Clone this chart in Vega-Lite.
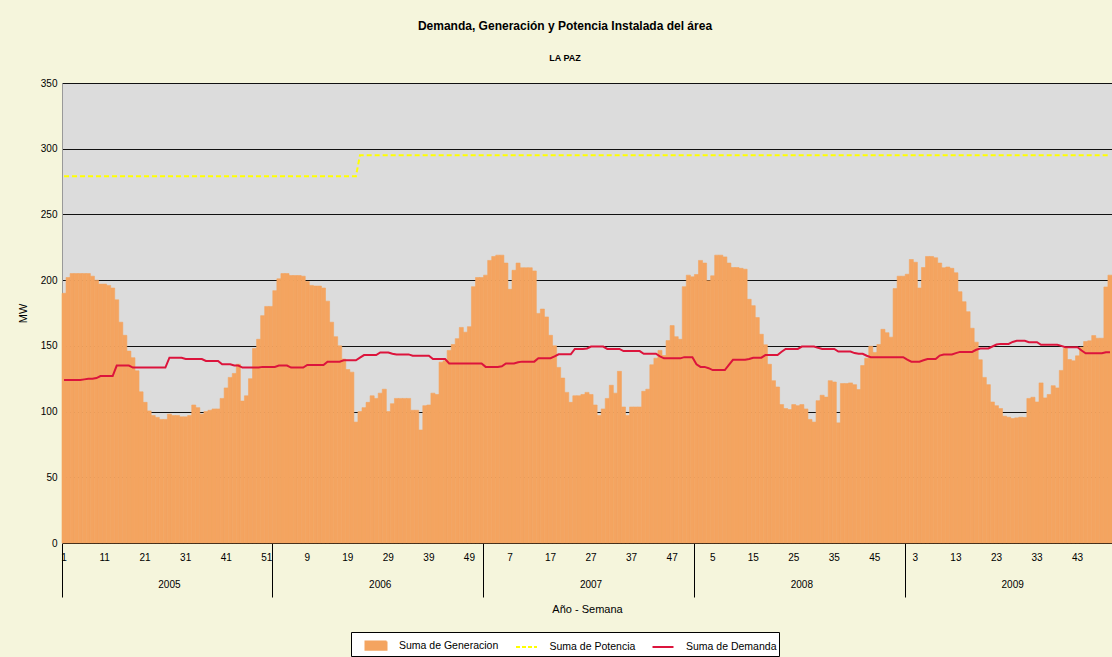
{
"$schema": "https://vega.github.io/schema/vega-lite/v6.json",
"width": 1050, "height": 460,
"autosize": {"type": "none"},
"padding": {"left": 62, "top": 83, "right": 0, "bottom": 114},
"background": "#F5F5DC",
"title": {"text": "Demanda, Generación y Potencia Instalada del área", "subtitle": "LA PAZ", "anchor": "middle", "dx": -22, "offset": 14, "font": "Liberation Sans", "fontSize": 12, "fontWeight": "bold", "color": "#000", "subtitleFont": "Liberation Sans", "subtitleFontSize": 9, "subtitleFontWeight": "bold", "subtitleColor": "#000", "subtitlePadding": 21},
"config": {"view": {"fill": "#DCDCDC", "stroke": null}, "font": "Liberation Sans", "axis": {"labelFont": "Liberation Sans", "titleFont": "Liberation Sans", "labelColor": "#000", "titleColor": "#000"},
  "legend": {"orient": "none", "legendX": 289, "legendY": 549, "direction": "horizontal", "strokeColor": "#000", "fillColor": "#FFFFFF", "padding": 2, "labelFontSize": 10.5, "labelFont": "Liberation Sans", "labelColor": "#000", "symbolSize": 441, "symbolOffset": 11.5, "labelOffset": 11.5, "columnPadding": 4.5, "symbolStrokeWidth": 2, "symbolOpacity": 1,
    "symbolType": {"expr": "datum.value === 'Suma de Generacion' ? 'M-1,-0.4H1V0.4H-1Z' : 'stroke'"},
    "symbolDash": {"expr": "datum.value === 'Suma de Potencia' ? [4, 2] : [1, 0]"}}},
"data": {"values": [
{"wk":"2005-01","gen":190,"dem":124,"pot":279},{"wk":"2005-02","gen":202,"dem":124,"pot":279},{"wk":"2005-03","gen":205,"dem":124,"pot":279},{"wk":"2005-04","gen":205,"dem":124,"pot":279},{"wk":"2005-05","gen":205,"dem":124,"pot":279},{"wk":"2005-06","gen":205,"dem":124.5,"pot":279},{"wk":"2005-07","gen":205,"dem":125,"pot":279},{"wk":"2005-08","gen":203,"dem":125,"pot":279},{"wk":"2005-09","gen":200,"dem":125.5,"pot":279},{"wk":"2005-10","gen":197,"dem":127,"pot":279},
{"wk":"2005-11","gen":197,"dem":127,"pot":279},{"wk":"2005-12","gen":196,"dem":127,"pot":279},{"wk":"2005-13","gen":194,"dem":127,"pot":279},{"wk":"2005-14","gen":185,"dem":135,"pot":279},{"wk":"2005-15","gen":168,"dem":135,"pot":279},{"wk":"2005-16","gen":158,"dem":135,"pot":279},{"wk":"2005-17","gen":146,"dem":135,"pot":279},{"wk":"2005-18","gen":141,"dem":133.5,"pot":279},{"wk":"2005-19","gen":131,"dem":133.5,"pot":279},{"wk":"2005-20","gen":115,"dem":133.5,"pot":279},
{"wk":"2005-21","gen":107,"dem":133.5,"pot":279},{"wk":"2005-22","gen":100.5,"dem":133.5,"pot":279},{"wk":"2005-23","gen":97,"dem":133.5,"pot":279},{"wk":"2005-24","gen":95.6,"dem":133.5,"pot":279},{"wk":"2005-25","gen":94,"dem":133.5,"pot":279},{"wk":"2005-26","gen":94,"dem":133.5,"pot":279},{"wk":"2005-27","gen":98,"dem":141,"pot":279},{"wk":"2005-28","gen":97,"dem":141,"pot":279},{"wk":"2005-29","gen":97,"dem":141,"pot":279},{"wk":"2005-30","gen":96,"dem":141,"pot":279},
{"wk":"2005-31","gen":96,"dem":140,"pot":279},{"wk":"2005-32","gen":97,"dem":140,"pot":279},{"wk":"2005-33","gen":105,"dem":140,"pot":279},{"wk":"2005-34","gen":103,"dem":140,"pot":279},{"wk":"2005-35","gen":98,"dem":140,"pot":279},{"wk":"2005-36","gen":100,"dem":138.5,"pot":279},{"wk":"2005-37","gen":101,"dem":138.5,"pot":279},{"wk":"2005-38","gen":102,"dem":138.5,"pot":279},{"wk":"2005-39","gen":102,"dem":138.5,"pot":279},{"wk":"2005-40","gen":110,"dem":136,"pot":279},
{"wk":"2005-41","gen":118,"dem":136,"pot":279},{"wk":"2005-42","gen":126,"dem":136,"pot":279},{"wk":"2005-43","gen":129,"dem":135,"pot":279},{"wk":"2005-44","gen":136,"dem":135,"pot":279},{"wk":"2005-45","gen":108,"dem":133.5,"pot":279},{"wk":"2005-46","gen":112,"dem":133.5,"pot":279},{"wk":"2005-47","gen":125,"dem":133.5,"pot":279},{"wk":"2005-48","gen":148,"dem":133.5,"pot":279},{"wk":"2005-49","gen":155,"dem":133.5,"pot":279},{"wk":"2005-50","gen":173,"dem":134,"pot":279},
{"wk":"2005-51","gen":180,"dem":134,"pot":279},{"wk":"2005-52","gen":180,"dem":134,"pot":279},{"wk":"2006-01","gen":192,"dem":134,"pot":279},{"wk":"2006-02","gen":201,"dem":135,"pot":279},{"wk":"2006-03","gen":205,"dem":135,"pot":279},{"wk":"2006-04","gen":205,"dem":135,"pot":279},{"wk":"2006-05","gen":203.5,"dem":133.5,"pot":279},{"wk":"2006-06","gen":203.5,"dem":133.5,"pot":279},{"wk":"2006-07","gen":203.5,"dem":133.5,"pot":279},{"wk":"2006-08","gen":203,"dem":133.5,"pot":279},
{"wk":"2006-09","gen":199,"dem":135.5,"pot":279},{"wk":"2006-10","gen":196,"dem":135.5,"pot":279},{"wk":"2006-11","gen":195.5,"dem":135.5,"pot":279},{"wk":"2006-12","gen":195.5,"dem":135.5,"pot":279},{"wk":"2006-13","gen":194,"dem":135.5,"pot":279},{"wk":"2006-14","gen":184,"dem":138,"pot":279},{"wk":"2006-15","gen":168,"dem":138,"pot":279},{"wk":"2006-16","gen":157,"dem":138,"pot":279},{"wk":"2006-17","gen":150,"dem":138,"pot":279},{"wk":"2006-18","gen":140,"dem":139,"pot":279},
{"wk":"2006-19","gen":132,"dem":139,"pot":279},{"wk":"2006-20","gen":130,"dem":139,"pot":279},{"wk":"2006-21","gen":92,"dem":139,"pot":279},{"wk":"2006-22","gen":100,"dem":141,"pot":295},{"wk":"2006-23","gen":103,"dem":143,"pot":295},{"wk":"2006-24","gen":107,"dem":143,"pot":295},{"wk":"2006-25","gen":112,"dem":143,"pot":295},{"wk":"2006-26","gen":110,"dem":143,"pot":295},{"wk":"2006-27","gen":114,"dem":145,"pot":295},{"wk":"2006-28","gen":117,"dem":145,"pot":295},
{"wk":"2006-29","gen":100,"dem":145,"pot":295},{"wk":"2006-30","gen":106,"dem":144,"pot":295},{"wk":"2006-31","gen":110,"dem":143.5,"pot":295},{"wk":"2006-32","gen":110,"dem":143.5,"pot":295},{"wk":"2006-33","gen":110,"dem":143.5,"pot":295},{"wk":"2006-34","gen":110,"dem":143.5,"pot":295},{"wk":"2006-35","gen":101,"dem":142.5,"pot":295},{"wk":"2006-36","gen":101,"dem":142.5,"pot":295},{"wk":"2006-37","gen":86,"dem":142.5,"pot":295},{"wk":"2006-38","gen":104.5,"dem":142.5,"pot":295},
{"wk":"2006-39","gen":105,"dem":142.5,"pot":295},{"wk":"2006-40","gen":114,"dem":140,"pot":295},{"wk":"2006-41","gen":113,"dem":140,"pot":295},{"wk":"2006-42","gen":137.6,"dem":140,"pot":295},{"wk":"2006-43","gen":138.6,"dem":140,"pot":295},{"wk":"2006-44","gen":146.5,"dem":136.6,"pot":295},{"wk":"2006-45","gen":151,"dem":136.6,"pot":295},{"wk":"2006-46","gen":155.5,"dem":136.6,"pot":295},{"wk":"2006-47","gen":164,"dem":136.6,"pot":295},{"wk":"2006-48","gen":160.4,"dem":136.6,"pot":295},
{"wk":"2006-49","gen":164.6,"dem":136.6,"pot":295},{"wk":"2006-50","gen":195,"dem":136.6,"pot":295},{"wk":"2006-51","gen":202,"dem":136.6,"pot":295},{"wk":"2006-52","gen":202,"dem":136.6,"pot":295},{"wk":"2007-01","gen":203.8,"dem":134,"pot":295},{"wk":"2007-02","gen":215,"dem":134,"pot":295},{"wk":"2007-03","gen":218,"dem":134,"pot":295},{"wk":"2007-04","gen":219,"dem":134,"pot":295},{"wk":"2007-05","gen":219,"dem":134.5,"pot":295},{"wk":"2007-06","gen":213,"dem":136.6,"pot":295},
{"wk":"2007-07","gen":193,"dem":136.6,"pot":295},{"wk":"2007-08","gen":207.5,"dem":136.6,"pot":295},{"wk":"2007-09","gen":213,"dem":137.5,"pot":295},{"wk":"2007-10","gen":209.4,"dem":138,"pot":295},{"wk":"2007-11","gen":209.4,"dem":138,"pot":295},{"wk":"2007-12","gen":209.4,"dem":138,"pot":295},{"wk":"2007-13","gen":207,"dem":138,"pot":295},{"wk":"2007-14","gen":174.7,"dem":140.6,"pot":295},{"wk":"2007-15","gen":178,"dem":140.6,"pot":295},{"wk":"2007-16","gen":172,"dem":140.6,"pot":295},
{"wk":"2007-17","gen":158,"dem":140.6,"pot":295},{"wk":"2007-18","gen":150,"dem":142,"pot":295},{"wk":"2007-19","gen":133.6,"dem":143.6,"pot":295},{"wk":"2007-20","gen":125.5,"dem":143.6,"pot":295},{"wk":"2007-21","gen":114.6,"dem":143.6,"pot":295},{"wk":"2007-22","gen":107,"dem":143.6,"pot":295},{"wk":"2007-23","gen":112,"dem":147.7,"pot":295},{"wk":"2007-24","gen":112,"dem":147.7,"pot":295},{"wk":"2007-25","gen":113,"dem":147.7,"pot":295},{"wk":"2007-26","gen":114.6,"dem":148,"pot":295},
{"wk":"2007-27","gen":113,"dem":149.5,"pot":295},{"wk":"2007-28","gen":105,"dem":149.5,"pot":295},{"wk":"2007-29","gen":97,"dem":149.5,"pot":295},{"wk":"2007-30","gen":102,"dem":149.5,"pot":295},{"wk":"2007-31","gen":110,"dem":147.7,"pot":295},{"wk":"2007-32","gen":120,"dem":147.7,"pot":295},{"wk":"2007-33","gen":114,"dem":147.7,"pot":295},{"wk":"2007-34","gen":130.6,"dem":147.7,"pot":295},{"wk":"2007-35","gen":103.5,"dem":146,"pot":295},{"wk":"2007-36","gen":97,"dem":146,"pot":295},
{"wk":"2007-37","gen":103.5,"dem":146,"pot":295},{"wk":"2007-38","gen":103.5,"dem":146,"pot":295},{"wk":"2007-39","gen":103.5,"dem":146,"pot":295},{"wk":"2007-40","gen":115.4,"dem":144,"pot":295},{"wk":"2007-41","gen":117,"dem":144,"pot":295},{"wk":"2007-42","gen":135.6,"dem":144,"pot":295},{"wk":"2007-43","gen":140.6,"dem":144,"pot":295},{"wk":"2007-44","gen":146.5,"dem":142,"pot":295},{"wk":"2007-45","gen":142.6,"dem":140.5,"pot":295},{"wk":"2007-46","gen":154,"dem":140.5,"pot":295},
{"wk":"2007-47","gen":165.4,"dem":140.5,"pot":295},{"wk":"2007-48","gen":157,"dem":140.5,"pot":295},{"wk":"2007-49","gen":155,"dem":140.5,"pot":295},{"wk":"2007-50","gen":195,"dem":141.4,"pot":295},{"wk":"2007-51","gen":203.8,"dem":141.4,"pot":295},{"wk":"2007-52","gen":202.5,"dem":141.4,"pot":295},{"wk":"2008-01","gen":204.3,"dem":136,"pot":295},{"wk":"2008-02","gen":215,"dem":134,"pot":295},{"wk":"2008-03","gen":213,"dem":134,"pot":295},{"wk":"2008-04","gen":199.5,"dem":133,"pot":295},
{"wk":"2008-05","gen":203.3,"dem":131.6,"pot":295},{"wk":"2008-06","gen":219,"dem":131.6,"pot":295},{"wk":"2008-07","gen":219,"dem":131.6,"pot":295},{"wk":"2008-08","gen":217.7,"dem":131.6,"pot":295},{"wk":"2008-09","gen":213,"dem":135.5,"pot":295},{"wk":"2008-10","gen":209.6,"dem":139.4,"pot":295},{"wk":"2008-11","gen":209.6,"dem":139.4,"pot":295},{"wk":"2008-12","gen":209,"dem":139.4,"pot":295},{"wk":"2008-13","gen":208.3,"dem":139.4,"pot":295},{"wk":"2008-14","gen":185.4,"dem":140,"pot":295},
{"wk":"2008-15","gen":180.6,"dem":141,"pot":295},{"wk":"2008-16","gen":171.5,"dem":141,"pot":295},{"wk":"2008-17","gen":158.8,"dem":141,"pot":295},{"wk":"2008-18","gen":150.8,"dem":143,"pot":295},{"wk":"2008-19","gen":136,"dem":143,"pot":295},{"wk":"2008-20","gen":123.5,"dem":143,"pot":295},{"wk":"2008-21","gen":118.7,"dem":143,"pot":295},{"wk":"2008-22","gen":105.3,"dem":145.5,"pot":295},{"wk":"2008-23","gen":102.3,"dem":147.7,"pot":295},{"wk":"2008-24","gen":101.5,"dem":147.7,"pot":295},
{"wk":"2008-25","gen":105.3,"dem":147.7,"pot":295},{"wk":"2008-26","gen":104.5,"dem":147.7,"pot":295},{"wk":"2008-27","gen":105.3,"dem":149.5,"pot":295},{"wk":"2008-28","gen":102,"dem":149.5,"pot":295},{"wk":"2008-29","gen":94,"dem":149.5,"pot":295},{"wk":"2008-30","gen":92,"dem":149.5,"pot":295},{"wk":"2008-31","gen":108.3,"dem":148.5,"pot":295},{"wk":"2008-32","gen":112.4,"dem":147.7,"pot":295},{"wk":"2008-33","gen":111,"dem":147.7,"pot":295},{"wk":"2008-34","gen":123.5,"dem":147.7,"pot":295},
{"wk":"2008-35","gen":122.5,"dem":147.7,"pot":295},{"wk":"2008-36","gen":91.4,"dem":145.7,"pot":295},{"wk":"2008-37","gen":121.3,"dem":145.7,"pot":295},{"wk":"2008-38","gen":121.3,"dem":145.7,"pot":295},{"wk":"2008-39","gen":121.8,"dem":145.7,"pot":295},{"wk":"2008-40","gen":120.5,"dem":144.5,"pot":295},{"wk":"2008-41","gen":116.7,"dem":144,"pot":295},{"wk":"2008-42","gen":135,"dem":144,"pot":295},{"wk":"2008-43","gen":140.6,"dem":142.5,"pot":295},{"wk":"2008-44","gen":149.7,"dem":141.4,"pot":295},
{"wk":"2008-45","gen":145,"dem":141.4,"pot":295},{"wk":"2008-46","gen":151,"dem":141.4,"pot":295},{"wk":"2008-47","gen":162.6,"dem":141.4,"pot":295},{"wk":"2008-48","gen":160,"dem":141.4,"pot":295},{"wk":"2008-49","gen":156.6,"dem":141.4,"pot":295},{"wk":"2008-50","gen":193.6,"dem":141.4,"pot":295},{"wk":"2008-51","gen":203,"dem":141.4,"pot":295},{"wk":"2008-52","gen":203,"dem":141.4,"pot":295},{"wk":"2009-01","gen":204.5,"dem":139.5,"pot":295},{"wk":"2009-02","gen":215.7,"dem":138,"pot":295},
{"wk":"2009-03","gen":213.6,"dem":138,"pot":295},{"wk":"2009-04","gen":194,"dem":138,"pot":295},{"wk":"2009-05","gen":209.6,"dem":139,"pot":295},{"wk":"2009-06","gen":218,"dem":140,"pot":295},{"wk":"2009-07","gen":218,"dem":140,"pot":295},{"wk":"2009-08","gen":217,"dem":140,"pot":295},{"wk":"2009-09","gen":213,"dem":142.6,"pot":295},{"wk":"2009-10","gen":209.4,"dem":143.4,"pot":295},{"wk":"2009-11","gen":210,"dem":143.4,"pot":295},{"wk":"2009-12","gen":209,"dem":143.4,"pot":295},
{"wk":"2009-13","gen":205.6,"dem":144.5,"pot":295},{"wk":"2009-14","gen":191.2,"dem":145.4,"pot":295},{"wk":"2009-15","gen":183.6,"dem":145.4,"pot":295},{"wk":"2009-16","gen":176,"dem":145.4,"pot":295},{"wk":"2009-17","gen":163.4,"dem":145.4,"pot":295},{"wk":"2009-18","gen":152.8,"dem":147,"pot":295},{"wk":"2009-19","gen":139.4,"dem":148,"pot":295},{"wk":"2009-20","gen":126,"dem":148,"pot":295},{"wk":"2009-21","gen":120.5,"dem":148,"pot":295},{"wk":"2009-22","gen":107.3,"dem":149.5,"pot":295},
{"wk":"2009-23","gen":104.5,"dem":151,"pot":295},{"wk":"2009-24","gen":102.3,"dem":151.5,"pot":295},{"wk":"2009-25","gen":96.5,"dem":151.5,"pot":295},{"wk":"2009-26","gen":95.7,"dem":151.5,"pot":295},{"wk":"2009-27","gen":94.7,"dem":153,"pot":295},{"wk":"2009-28","gen":95.2,"dem":153.8,"pot":295},{"wk":"2009-29","gen":95.7,"dem":153.8,"pot":295},{"wk":"2009-30","gen":95.5,"dem":153.8,"pot":295},{"wk":"2009-31","gen":110,"dem":152.8,"pot":295},{"wk":"2009-32","gen":110.9,"dem":152.8,"pot":295},
{"wk":"2009-33","gen":107.3,"dem":152.8,"pot":295},{"wk":"2009-34","gen":121.8,"dem":150.8,"pot":295},{"wk":"2009-35","gen":110.4,"dem":150.8,"pot":295},{"wk":"2009-36","gen":113,"dem":150.8,"pot":295},{"wk":"2009-37","gen":119.7,"dem":150.8,"pot":295},{"wk":"2009-38","gen":118,"dem":150.8,"pot":295},{"wk":"2009-39","gen":131.3,"dem":150,"pot":295},{"wk":"2009-40","gen":148,"dem":149,"pot":295},{"wk":"2009-41","gen":139.6,"dem":149,"pot":295},{"wk":"2009-42","gen":138.6,"dem":149,"pot":295},
{"wk":"2009-43","gen":142.4,"dem":149,"pot":295},{"wk":"2009-44","gen":148.9,"dem":146.5,"pot":295},{"wk":"2009-45","gen":153.3,"dem":144.4,"pot":295},{"wk":"2009-46","gen":153.8,"dem":144.4,"pot":295},{"wk":"2009-47","gen":157.8,"dem":144.4,"pot":295},{"wk":"2009-48","gen":155.8,"dem":144.4,"pot":295},{"wk":"2009-49","gen":155.8,"dem":144.4,"pot":295},{"wk":"2009-50","gen":194.8,"dem":145.2,"pot":295},{"wk":"2009-51","gen":203.8,"dem":145.2,"pot":295}
]},
"resolve": {"axis": {"x": "independent"}},
"layer": [
{"mark": {"type": "bar", "stroke": "#F4A460", "strokeWidth": 0.6},
 "encoding": {
  "x": {"field": "wk", "type": "ordinal", "scale": {"paddingInner": 0, "paddingOuter": 0},
        "axis": {"orient": "bottom", "values": ["2005-01","2005-11","2005-21","2005-31","2005-41","2005-51","2006-09","2006-19","2006-29","2006-39","2006-49","2007-07","2007-17","2007-27","2007-37","2007-47","2008-05","2008-15","2008-25","2008-35","2008-45","2009-03","2009-13","2009-23","2009-33","2009-43"],
                 "labelExpr": "'' + toNumber(slice(datum.value, 5))", "ticks": false, "domain": true, "domainColor": "#000", "domainWidth": 1, "labelPadding": 9, "labelFontSize": 10, "labelAngle": 0, "title": null, "grid": false}},
  "y": {"field": "gen", "type": "quantitative", "scale": {"domain": [0, 350], "nice": false},
        "axis": {"title": "MW", "values": [0,50,100,150,200,250,300,350], "grid": true, "gridColor": "#111", "gridWidth": 1, "ticks": false, "domain": true, "domainColor": "#999", "labelPadding": 5, "labelFontSize": 10, "titleFontSize": 11, "titleFontWeight": "normal", "titlePadding": 12}},
  "color": {"datum": "Suma de Generacion", "type": "nominal",
            "scale": {"domain": ["Suma de Generacion", "Suma de Potencia", "Suma de Demanda"], "range": ["#F4A460", "#FFFF00", "#DC143C"]},
            "legend": {"title": null}}
 }},
{"mark": {"type": "line", "strokeDash": [5, 3], "strokeWidth": 2},
 "encoding": {
  "x": {"field": "wk", "type": "ordinal",
        "axis": {"orient": "bottom", "values": ["2005-27","2006-27","2007-27","2008-27","2009-27"], "bandPosition": 0, "labelExpr": "slice(datum.value, 0, 4)", "ticks": false, "domain": false, "labelPadding": 36, "labelFontSize": 10, "labelAngle": 0, "title": "Año - Semana", "titleFontSize": 11, "titleFontWeight": "normal", "titlePadding": 14, "grid": false}},
  "y": {"field": "pot", "type": "quantitative"},
  "color": {"datum": "Suma de Potencia", "type": "nominal", "legend": {"title": null}}
 }},
{"mark": {"type": "line", "strokeWidth": 2},
 "encoding": {
  "x": {"field": "wk", "type": "ordinal",
        "axis": {"orient": "bottom", "values": ["2005-01","2006-01","2007-01","2008-01","2009-01"], "bandPosition": 0, "ticks": true, "tickSize": 54, "tickColor": "#000", "tickWidth": 1, "labels": false, "domain": false, "title": null, "grid": false}},
  "y": {"field": "dem", "type": "quantitative"},
  "color": {"datum": "Suma de Demanda", "type": "nominal", "legend": {"title": null}}
 }}
]
}
